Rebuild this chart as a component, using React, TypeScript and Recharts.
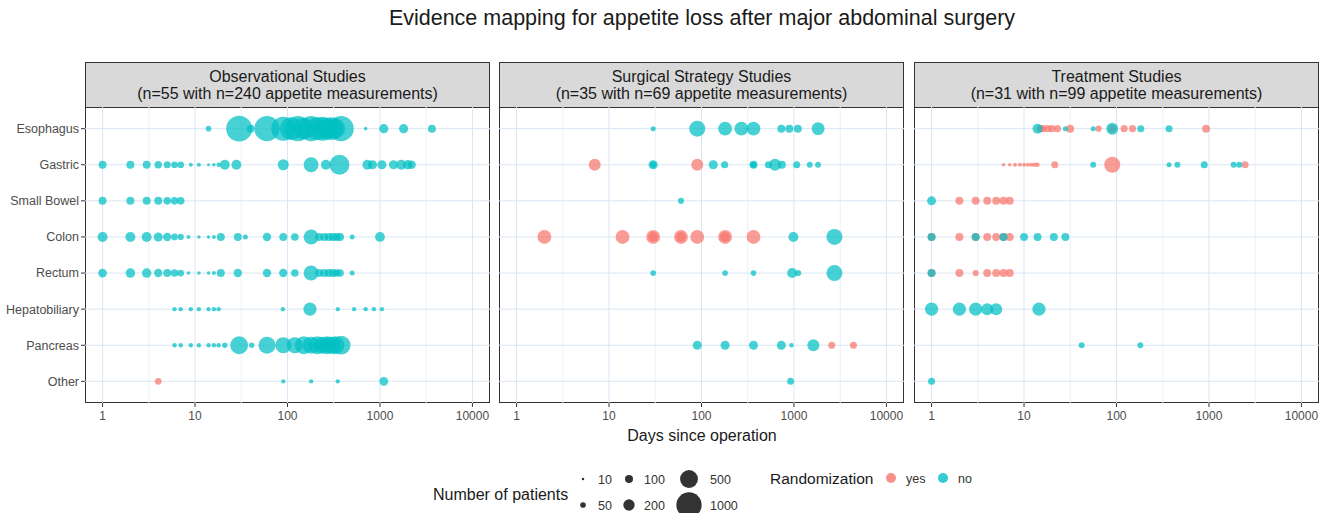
import React from "react";
import { ScatterChart, Scatter, XAxis, YAxis, ReferenceLine } from "recharts";

const CATEGORIES = [
  "Esophagus",
  "Gastric",
  "Small Bowel",
  "Colon",
  "Rectum",
  "Hepatobiliary",
  "Pancreas",
  "Other",
];
const DAY_TICKS = [1, 10, 100, 1000, 10000];
const MINOR_DAYS = [3.162, 31.62, 316.2, 3162];
const SIZE_BREAKS = [10, 50, 100, 200, 500, 1000];

// [row (1 = Esophagus), days since operation, number of patients]
type Pt = [number, number, number];

const obsNo: Pt[] = [
  [1, 14, 50], [1, 30, 1050], [1, 40, 100], [1, 60, 1000], [1, 90, 900], [1, 110, 800],
  [1, 130, 1000], [1, 150, 700], [1, 180, 1000], [1, 210, 800], [1, 240, 900], [1, 270, 700],
  [1, 300, 800], [1, 330, 600], [1, 380, 1000], [1, 700, 20], [1, 1100, 130], [1, 1800, 130],
  [1, 3650, 100],
  [2, 1, 100], [2, 2, 100], [2, 3, 100], [2, 4, 90], [2, 5, 80], [2, 6, 70], [2, 7, 70],
  [2, 9, 25], [2, 11, 25], [2, 14, 15], [2, 16, 20], [2, 18, 30], [2, 21, 150], [2, 28, 150],
  [2, 90, 190], [2, 180, 350], [2, 260, 150], [2, 365, 620], [2, 730, 150], [2, 830, 130],
  [2, 1050, 130], [2, 1400, 130], [2, 1700, 150], [2, 2000, 140], [2, 2200, 110],
  [3, 1, 100], [3, 2, 100], [3, 3, 100], [3, 4, 100], [3, 5, 90], [3, 6, 90], [3, 7, 90],
  [4, 1, 156], [4, 2, 156], [4, 3, 156], [4, 4, 130], [4, 5, 110], [4, 6, 70], [4, 7, 60],
  [4, 8.5, 25], [4, 11, 20], [4, 14, 20], [4, 16, 25], [4, 19, 100], [4, 29, 100], [4, 35, 40],
  [4, 60, 110], [4, 90, 100], [4, 120, 90], [4, 180, 350], [4, 220, 100], [4, 250, 100],
  [4, 280, 100], [4, 310, 100], [4, 340, 100], [4, 370, 100], [4, 500, 40], [4, 1000, 150],
  [5, 1, 120], [5, 2, 140], [5, 3, 140], [5, 4, 110], [5, 5, 100], [5, 6, 90], [5, 7, 70],
  [5, 8.5, 20], [5, 11, 20], [5, 14, 20], [5, 16, 25], [5, 19, 100], [5, 29, 110], [5, 60, 110],
  [5, 90, 110], [5, 120, 90], [5, 180, 350], [5, 220, 100], [5, 250, 100], [5, 280, 100],
  [5, 310, 100], [5, 340, 90], [5, 370, 90], [5, 500, 40],
  [6, 6, 30], [6, 7, 30], [6, 9, 30], [6, 11, 30], [6, 14, 30], [6, 16, 30], [6, 18, 30],
  [6, 89, 30], [6, 175, 270], [6, 350, 30], [6, 525, 30], [6, 700, 30], [6, 860, 30],
  [6, 1050, 30],
  [7, 6, 30], [7, 7, 30], [7, 9, 30], [7, 11, 30], [7, 14, 30], [7, 16, 30], [7, 18, 30],
  [7, 21, 45], [7, 30, 500], [7, 41, 45], [7, 60, 450], [7, 90, 400], [7, 120, 400],
  [7, 150, 500], [7, 180, 450], [7, 210, 500], [7, 240, 450], [7, 270, 500], [7, 300, 450],
  [7, 330, 500], [7, 380, 550],
  [8, 90, 30], [8, 180, 30], [8, 350, 30], [8, 1100, 120],
];
const obsYes: Pt[] = [[8, 4, 70]];

const surgNo: Pt[] = [
  [1, 30, 40], [1, 90, 400], [1, 180, 300], [1, 270, 300], [1, 365, 300], [1, 730, 100],
  [1, 890, 100], [1, 1100, 100], [1, 1825, 260],
  [2, 30, 130], [2, 30, 60], [2, 134, 130], [2, 178, 80], [2, 365, 100], [2, 365, 60],
  [2, 530, 80], [2, 624, 225], [2, 740, 100], [2, 1070, 80], [2, 1480, 55], [2, 1820, 55],
  [3, 60, 60],
  [4, 985, 156], [4, 2740, 400],
  [5, 30, 50], [5, 180, 50], [5, 365, 50], [5, 955, 156], [5, 1110, 60], [5, 2740, 400],
  [7, 90, 127], [7, 180, 127], [7, 365, 127], [7, 730, 127], [7, 940, 30], [7, 1620, 225],
  [8, 920, 77],
];
const surgYes: Pt[] = [
  [2, 7, 225], [2, 90, 225],
  [4, 2, 300], [4, 14, 300], [4, 30, 300], [4, 30, 150], [4, 60, 300], [4, 60, 150],
  [4, 90, 300], [4, 180, 300], [4, 180, 150], [4, 365, 300],
  [7, 2560, 77], [7, 4400, 77],
];

const treatNo: Pt[] = [
  [1, 14, 156], [1, 28, 40], [1, 56, 40], [1, 90, 225], [1, 183, 77], [1, 370, 77],
  [2, 56, 56], [2, 370, 40], [2, 456, 56], [2, 890, 77], [2, 1850, 56], [2, 2130, 56],
  [3, 1, 127],
  [4, 1, 100], [4, 3, 100], [4, 6, 100], [4, 10, 100], [4, 14, 100], [4, 21, 100], [4, 28, 100],
  [5, 1, 100],
  [6, 1, 270], [6, 2, 270], [6, 3, 270], [6, 4, 225], [6, 5, 225], [6, 14.5, 270],
  [7, 42, 56], [7, 181, 56],
  [8, 1, 77],
];
const treatYes: Pt[] = [
  [1, 15, 80], [1, 16, 80], [1, 18, 80], [1, 20, 80], [1, 23, 80], [1, 31.5, 100], [1, 64, 60],
  [1, 90, 100], [1, 121, 80], [1, 149, 80], [1, 930, 100],
  [2, 6, 20], [2, 7, 20], [2, 8, 25], [2, 9, 25], [2, 10, 25], [2, 11, 25], [2, 12, 25],
  [2, 13, 30], [2, 14, 30], [2, 21.5, 77], [2, 90, 400], [2, 2460, 77],
  [3, 2, 100], [3, 3, 100], [3, 4, 100], [3, 5, 100], [3, 6, 100], [3, 7, 100],
  [4, 1, 100], [4, 2, 100], [4, 3, 100], [4, 4, 100], [4, 5, 100], [4, 6, 100], [4, 7, 100],
  [5, 1, 100], [5, 2, 100], [5, 3, 60], [5, 4, 100], [5, 5, 100], [5, 6, 100], [5, 7, 100],
];

const PANELS = [
  { title: "Observational Studies", sub: "(n=55 with n=240 appetite measurements)", yes: obsYes, no: obsNo },
  { title: "Surgical Strategy Studies", sub: "(n=35 with n=69 appetite measurements)", yes: surgYes, no: surgNo },
  { title: "Treatment Studies", sub: "(n=31 with n=99 appetite measurements)", yes: treatYes, no: treatNo },
];

const RED = "#F8766D";
const TEAL = "#00BFC4";
const FONT = "'Liberation Sans', Arial, sans-serif";
const X_MIN = 0.6457;
const X_MAX = 15488;
const PANEL_LEFTS = [85, 499, 914];
const PANEL_W = 405;
const STRIP_TOP = 62;
const STRIP_H = 45;
const PLOT_TOP = 107;
const PLOT_H = 296;
const Y_AXIS_W = 85;

const rad = (n: number) => 0.4 * Math.sqrt(n);
const toRows = (pts: Pt[]) => pts.map(([row, days, n]) => ({ row, days, n }));

const dot = (color: string) => (props: any) => (
  <circle cx={props.cx} cy={props.cy} r={rad(props.payload.n)} fill={color} fillOpacity={0.72} />
);

const Panel = ({ idx }: { idx: number }) => {
  const p = PANELS[idx];
  const first = idx === 0;
  const yw = first ? Y_AXIS_W : 0;
  return (
    <>
      <div
        style={{
          position: "absolute",
          left: PANEL_LEFTS[idx],
          top: STRIP_TOP,
          width: PANEL_W,
          height: PLOT_TOP + PLOT_H - STRIP_TOP,
          boxSizing: "border-box",
          border: "1px solid #333",
        }}
      >
        <div
          style={{
            height: STRIP_H - 1,
            background: "#d9d9d9",
            borderBottom: "1px solid #333",
            display: "flex",
            flexDirection: "column",
            justifyContent: "center",
            alignItems: "center",
            fontSize: 16,
            lineHeight: "17px",
            color: "#1a1a1a",
          }}
        >
          <div>{p.title}</div>
          <div>{p.sub}</div>
        </div>
      </div>
      <div style={{ position: "absolute", left: PANEL_LEFTS[idx] - yw, top: PLOT_TOP }}>
        <ScatterChart width={PANEL_W + yw} height={PLOT_H + 30} margin={{ top: 0, right: 0, bottom: 0, left: 0 }}>
          <XAxis
            type="number"
            dataKey="days"
            scale="log"
            domain={[X_MIN, X_MAX]}
            allowDataOverflow
            ticks={DAY_TICKS}
            interval={0}
            tickFormatter={(v) => String(v)}
            tick={{ fontSize: 12, fill: "#4d4d4d", fontFamily: FONT }}
            tickLine={{ stroke: "#333" }}
            tickSize={4}
            tickMargin={4}
            axisLine={false}
            height={30}
          />
          <YAxis
            type="number"
            dataKey="row"
            domain={[0.4, 8.6]}
            reversed
            hide={!first}
            ticks={[1, 2, 3, 4, 5, 6, 7, 8]}
            interval={0}
            tickFormatter={(v) => CATEGORIES[v - 1]}
            tick={{ fontSize: 12.5, fill: "#4d4d4d", fontFamily: FONT }}
            tickLine={{ stroke: "#333" }}
            tickSize={4}
            axisLine={false}
            width={yw}
          />
          {MINOR_DAYS.map((d) => (
            <ReferenceLine key={"m" + d} x={d} stroke="#eaf1f9" strokeWidth={1} />
          ))}
          {DAY_TICKS.map((d) => (
            <ReferenceLine key={"M" + d} x={d} stroke="#d9e6f4" strokeWidth={1} />
          ))}
          {CATEGORIES.map((c, i) => (
            <ReferenceLine key={c} y={i + 1} stroke="#d9e6f4" strokeWidth={1} />
          ))}
          <Scatter data={toRows(p.yes)} shape={dot(RED)} isAnimationActive={false} />
          <Scatter data={toRows(p.no)} shape={dot(TEAL)} isAnimationActive={false} />
        </ScatterChart>
      </div>
    </>
  );
};

const SizeLegend = () => {
  const cols = [583, 629, 689];
  const rows = [479, 505];
  return (
    <svg width={1331} height={513} style={{ position: "absolute", left: 0, top: 0, pointerEvents: "none" }}>
      <text x={433} y={500} fontSize={16} fill="#1a1a1a" fontFamily={FONT}>
        Number of patients
      </text>
      {SIZE_BREAKS.map((n, i) => {
        const cx = cols[Math.floor(i / 2)];
        const cy = rows[i % 2];
        return (
          <g key={n}>
            <circle cx={cx} cy={cy} r={rad(n)} fill="#333" />
            <text x={cx + (i >= 4 ? 21 : 15)} y={cy + 4.5} fontSize={12.5} fill="#333" fontFamily={FONT}>
              {n}
            </text>
          </g>
        );
      })}
      <text x={770} y={484} fontSize={15.5} fill="#1a1a1a" fontFamily={FONT}>
        Randomization
      </text>
      <circle cx={891} cy={478} r={5} fill={RED} fillOpacity={0.8} />
      <text x={906} y={482.5} fontSize={12.5} fill="#333" fontFamily={FONT}>
        yes
      </text>
      <circle cx={943} cy={478} r={5} fill={TEAL} fillOpacity={0.8} />
      <text x={958} y={482.5} fontSize={12.5} fill="#333" fontFamily={FONT}>
        no
      </text>
    </svg>
  );
};

export default function App() {
  return (
    <div
      style={{
        position: "absolute",
        left: 0,
        top: 0,
        width: 1331,
        height: 513,
        background: "#fff",
        fontFamily: FONT,
      }}
    >
      <div
        style={{
          position: "absolute",
          left: 85,
          width: 1234,
          top: 6,
          textAlign: "center",
          fontSize: 21.5,
          color: "#1a1a1a",
        }}
      >
        Evidence mapping for appetite loss after major abdominal surgery
      </div>
      {PANELS.map((_, i) => (
        <Panel key={i} idx={i} />
      ))}
      <div
        style={{
          position: "absolute",
          left: 85,
          width: 1234,
          top: 427,
          textAlign: "center",
          fontSize: 16,
          color: "#1a1a1a",
        }}
      >
        Days since operation
      </div>
      <SizeLegend />
    </div>
  );
}
